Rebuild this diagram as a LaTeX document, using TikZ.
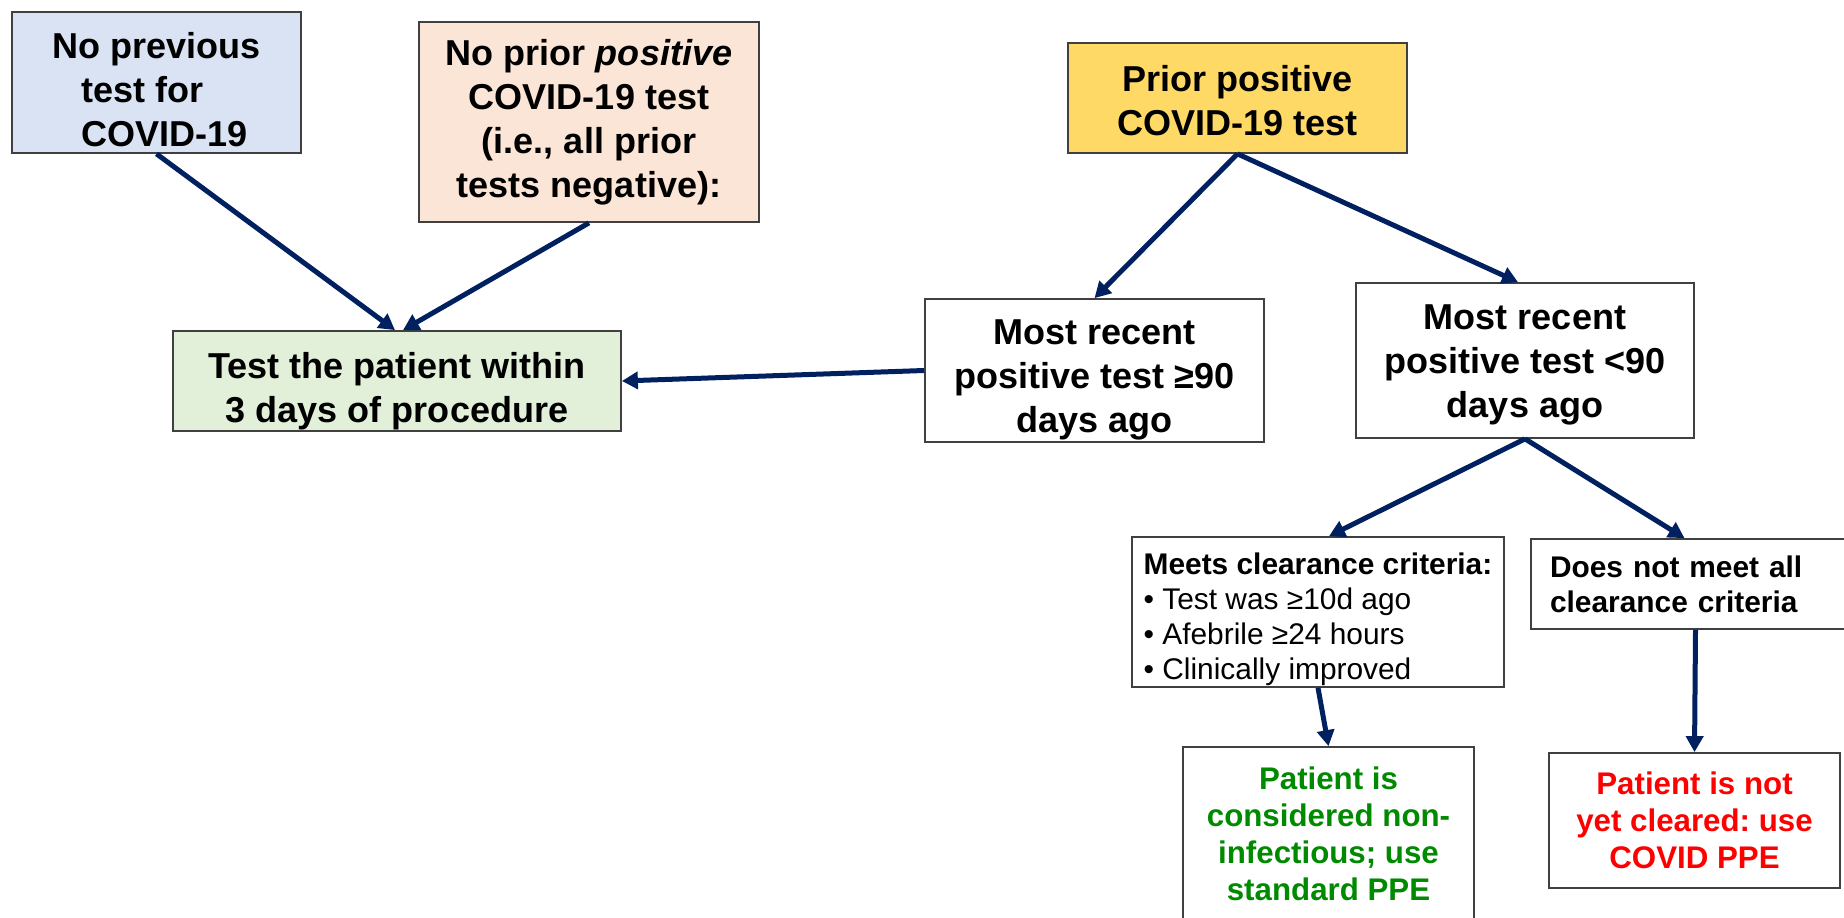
\documentclass[tikz,border=0pt]{standalone}
\usepackage{fontspec}
\setmainfont{Liberation Sans}
\usetikzlibrary{arrows.meta}
\frenchspacing

\definecolor{bluefill}{HTML}{DAE3F3}
\definecolor{peachfill}{HTML}{FBE5D6}
\definecolor{mintfill}{HTML}{E2F0D9}
\definecolor{goldfill}{HTML}{FFD966}
\definecolor{navy}{HTML}{002060}
\definecolor{boxline}{HTML}{404040}
\definecolor{okgreen}{HTML}{008A00}
\definecolor{alertred}{HTML}{FF0000}

% invisible struts to nudge the text inside a box
\newcommand{\padtop}[1]{\rule{0pt}{#1}}
\newcommand{\padbot}[1]{\rule[-#1]{0pt}{0pt}}

\begin{document}
\begin{tikzpicture}[x=0.02cm, y=-0.02cm,
        box/.style={draw=boxline, line width=0.035cm, align=center, inner sep=0pt,
        font=\bfseries\fontsize{20.5}{25}\selectfont},
        small/.style={font=\bfseries\fontsize{17}{20}\selectfont},
        verdict/.style={font=\bfseries\fontsize{17.8}{21}\selectfont},
        dims/.style 2 args={minimum width=#1*0.02cm, minimum height=#2*0.02cm},
        link/.style={draw=navy, line width=0.1cm, -{Triangle[length=0.32cm,width=0.34cm]}},]
    \useasboundingbox (0,0) rectangle (1844,918);

    % left column
    \node (noprev) [box, fill=bluefill, dims={289}{141}, align=left] at (156.5,82.5)
    {\padtop{0.8cm}No previous\\ \hspace*{0.58cm}test for\\ \hspace*{0.58cm}COVID-19};
    \node (noprior) [box, fill=peachfill, dims={340}{200}] at (589,122)
    {No prior \textit{positive}\\COVID-19 test\\(i.e., all prior\\tests negative):};
    \node (testpt) [box, fill=mintfill, dims={448}{100}] at (397,381)
    {\padtop{0.92cm}Test the patient within\\3 days of procedure};

    % right column
    \node (prior) [box, fill=goldfill, dims={339}{110}] at (1237.5,98)
    {\padtop{0.64cm}Prior positive\\COVID-19 test};
    \node (ge90) [box, fill=white, dims={339}{143}] at (1094.5,370.5)
    {\padtop{0.88cm}Most recent\\positive test ≥90\\days ago};
    \node (lt90) [box, fill=white, dims={338}{155}] at (1525,360.5)
    {\padtop{0.68cm}Most recent\\positive test <90\\days ago};

    \node (meets) [box, small, fill=white, dims={372}{150}, align=left] at (1318,612)
    {\padtop{0.72cm}Meets clearance criteria:\\ \mdseries • Test was ≥10d ago\\ \mdseries • Afebrile ≥24 hours\\ \mdseries • Clinically improved};
    \node (dnm) [box, small, fill=white, align=left, text width=5.82cm, inner xsep=0.38cm,
        minimum height=1.8cm] at (1695.5,584)
    {Does not meet all\\clearance criteria};

    \node (noninf) [box, verdict, text=okgreen, fill=white, dims={291}{183}] at (1328.5,838.5)
    {Patient is\\considered non-\\infectious; use\\standard PPE\padbot{0.2cm}};
    \node (notclr) [box, verdict, text=alertred, fill=white, dims={291}{135}] at (1694.5,820.5)
    {Patient is not\\yet cleared: use\\COVID PPE};

    \draw [link] (noprev.south) -- ([xshift=-0.04cm]testpt.north);
    \draw [link] (noprior.south) -- ([xshift=0.12cm]testpt.north);
    \draw [link] (ge90.west) -- (testpt.east);

    \draw [link] (prior.south) -- (ge90.north);
    \draw [link] (prior.south) -- ([xshift=-0.14cm]lt90.north);

    \draw [link] (lt90.south) -- ([xshift=0.22cm]meets.north);
    \draw [link] (lt90.south) -- ([xshift=-0.22cm]dnm.north);

    \draw [link] (meets.south) -- (noninf.north);
    \draw [link] (dnm.south) -- (notclr.north);
\end{tikzpicture}
\end{document}
